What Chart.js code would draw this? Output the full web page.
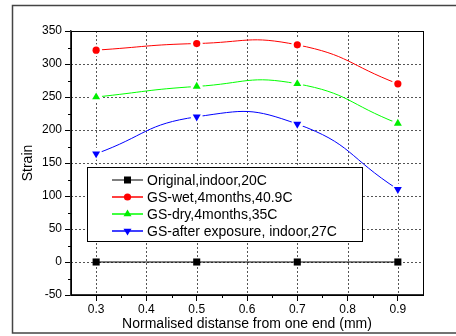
<!DOCTYPE html>
<html>
<head>
<meta charset="utf-8">
<script src="https://cdn.jsdelivr.net/npm/chart.js@4/dist/chart.umd.min.js"></script>
<style>
  body { margin: 0; background: #fff; }
  #wrap { width: 456px; height: 336px; }
</style>
</head>
<body>
<div id="wrap"><canvas id="myChart" width="456" height="336"></canvas></div>
<script>
// values
const xValues = [0.3, 0.5, 0.7, 0.9]
const original = [0, 0, 0, 0]
const gsWet = [321, 331, 329, 270]
const gsDry = [250, 266, 270, 210]
const gsAfter = [164, 220, 209, 110]

const seriesNames = ["Original,indoor,20C", "GS-wet,4months,40.9C", "GS-dry,4months,35C", "GS-after exposure, indoor,27C"]

const xTicks = [0.3, 0.4, 0.5, 0.6, 0.7, 0.8, 0.9]
const xMinor = [0.35, 0.45, 0.55, 0.65, 0.75, 0.85]
const yTicks = [-50, 0, 50, 100, 150, 200, 250, 300, 350]
const yMinor = [-25, 25, 75, 125, 175, 225, 275, 325]

const FONT = "'Liberation Sans', Arial, sans-serif"

function pts(ys) {
    return ys.map((y, i) => ({ x: xValues[i], y: y }))
}

// markers drawn by hand for the legend box
function marker(ctx, style, x, y, color) {
    ctx.fillStyle = color
    ctx.beginPath()
    if (style === "rect") {
        ctx.rect(x - 3.5, y - 3.5, 7, 7)
    } else if (style === "circle") {
        ctx.arc(x, y, 3.6, 0, Math.PI * 2)
    } else if (style === "up") {
        ctx.moveTo(x, y - 4.6); ctx.lineTo(x + 4, y + 2.3); ctx.lineTo(x - 4, y + 2.3)
    } else {
        ctx.moveTo(x, y + 4.6); ctx.lineTo(x + 4, y - 2.3); ctx.lineTo(x - 4, y - 2.3)
    }
    ctx.closePath()
    ctx.fill()
}

const legendStyles = ["rect", "circle", "up", "down"]

// white gap round the markers, as the original plot has
const gapPlugin = {
    id: "gap",
    afterDatasetDraw(chart, args) {
        const ds = chart.data.datasets[args.index]
        if (!ds.gap) return
        const ctx = chart.ctx
        ctx.save()
        ctx.fillStyle = "#fff"
        args.meta.data.forEach(p => {
            ctx.beginPath()
            ctx.arc(p.x, p.y, 6, 0, Math.PI * 2)
            ctx.fill()
        })
        args.meta.data.forEach(p => p.draw(ctx, chart.chartArea))
        ctx.restore()
    }
}

// dotted grid, drawn before the datasets
const gridPlugin = {
    id: "dotgrid",
    beforeDatasetsDraw(chart) {
        const ctx = chart.ctx
        const a = chart.chartArea
        const xs = chart.scales.x, ys = chart.scales.y
        ctx.save()
        ctx.strokeStyle = "#555"
        ctx.lineWidth = 1
        ctx.setLineDash([2, 2])
        ctx.beginPath()
        xTicks.forEach(v => {
            const px = Math.round(xs.getPixelForValue(v)) + 0.5
            ctx.moveTo(px, a.top); ctx.lineTo(px, a.bottom)
        })
        yTicks.forEach(v => {
            const py = Math.round(ys.getPixelForValue(v)) + 0.5
            ctx.moveTo(a.left, py); ctx.lineTo(a.right, py)
        })
        ctx.stroke()
        ctx.restore()
    }
}

const framePlugin = {
    id: "frame",
    afterDraw(chart) {
        const ctx = chart.ctx
        const a = chart.chartArea
        const xs = chart.scales.x, ys = chart.scales.y
        ctx.save()
        // plot box
        ctx.strokeStyle = "#000"
        ctx.lineWidth = 1
        ctx.strokeRect(a.left + 0.5, a.top + 0.5, a.right - a.left, a.bottom - a.top)
        // minor ticks
        ctx.beginPath()
        xMinor.forEach(v => {
            const px = Math.round(xs.getPixelForValue(v)) + 0.5
            ctx.moveTo(px, a.bottom); ctx.lineTo(px, a.bottom + 3)
        })
        yMinor.forEach(v => {
            const py = Math.round(ys.getPixelForValue(v)) + 0.5
            ctx.moveTo(a.left, py); ctx.lineTo(a.left - 3, py)
        })
        ctx.stroke()

        // legend box
        const bx = 87, by = 167, bw = 275, bh = 74
        ctx.fillStyle = "#fff"
        ctx.fillRect(bx, by, bw, bh)
        ctx.strokeRect(bx + 0.5, by + 0.5, bw, bh)
        ctx.font = "14px " + FONT
        ctx.textBaseline = "middle"
        chart.data.datasets.forEach((ds, i) => {
            const y = by + 13 + i * 17
            ctx.strokeStyle = i === 0 ? "#555" : ds.borderColor
            ctx.lineWidth = 1.5
            ctx.beginPath()
            ctx.moveTo(112, y); ctx.lineTo(143, y)
            ctx.stroke()
            marker(ctx, legendStyles[i], 127.5, y, ds.pointBackgroundColor)
            ctx.fillStyle = "#000"
            ctx.fillText(ds.label, 147, y + 1)
        })

        // outer frame
        ctx.strokeStyle = "#444"
        ctx.lineWidth = 1.5
        ctx.strokeRect(12.5, 5.5, 460, 327.5)
        ctx.restore()
    }
}

function updateChart() {
    const ctx = document.getElementById("myChart").getContext("2d")
    const common = { borderWidth: 1, pointBorderWidth: 0, tension: 0.5, fill: false }
    new Chart(ctx, {
        type: "line",
        data: {
            datasets: [
                Object.assign({ label: seriesNames[0], data: pts(original), borderColor: "#000", pointBackgroundColor: "#000", pointStyle: "rect", pointRadius: 5, gap: false }, common),
                Object.assign({ label: seriesNames[1], data: pts(gsWet), borderColor: "#ff0000", pointBackgroundColor: "#ff0000", pointStyle: "circle", pointRadius: 3.6, gap: true }, common),
                Object.assign({ label: seriesNames[2], data: pts(gsDry), borderColor: "#00ff00", pointBackgroundColor: "#00ee00", pointStyle: "triangle", pointRadius: 4.6, gap: true }, common),
                Object.assign({ label: seriesNames[3], data: pts(gsAfter), borderColor: "#0000ff", pointBackgroundColor: "#0000ff", pointStyle: "triangle", pointRotation: 180, pointRadius: 4.6, gap: true }, common)
            ]
        },
        options: {
            responsive: false,
            animation: false,
            layout: { padding: { left: 0, top: 31, right: 33, bottom: 0 } },
            plugins: { legend: { display: false }, tooltip: { enabled: false } },
            scales: {
                x: {
                    type: "linear",
                    min: 0.25,
                    max: 0.95,
                    afterBuildTicks: s => { s.ticks = xTicks.map(v => ({ value: v })) },
                    afterFit: s => { s.height = 41 },
                    ticks: { padding: 1, color: "#000", font: { family: FONT, size: 12 }, callback: v => v.toFixed(1) },
                    grid: { drawOnChartArea: false, tickColor: "#000", tickLength: 6, lineWidth: 1 },
                    border: { color: "#333", width: 1.5 },
                    title: { display: true, text: "Normalised distanse from one end (mm)", color: "#000", font: { family: FONT, size: 14 }, padding: { top: 0, bottom: 3 } }
                },
                y: {
                    min: -50,
                    max: 350,
                    afterBuildTicks: s => { s.ticks = yTicks.map(v => ({ value: v })) },
                    afterFit: s => { s.width = 71 },
                    ticks: { padding: 3, color: "#000", font: { family: FONT, size: 12 }, callback: v => String(v) },
                    grid: { drawOnChartArea: false, tickColor: "#000", tickLength: 6, lineWidth: 1 },
                    border: { color: "#333", width: 1.5 },
                    title: { display: true, text: "Strain", color: "#000", font: { family: FONT, size: 14 }, padding: { top: 20, bottom: 0 } }
                }
            }
        },
        plugins: [gridPlugin, gapPlugin, framePlugin]
    })
}

updateChart()
</script>
</body>
</html>
